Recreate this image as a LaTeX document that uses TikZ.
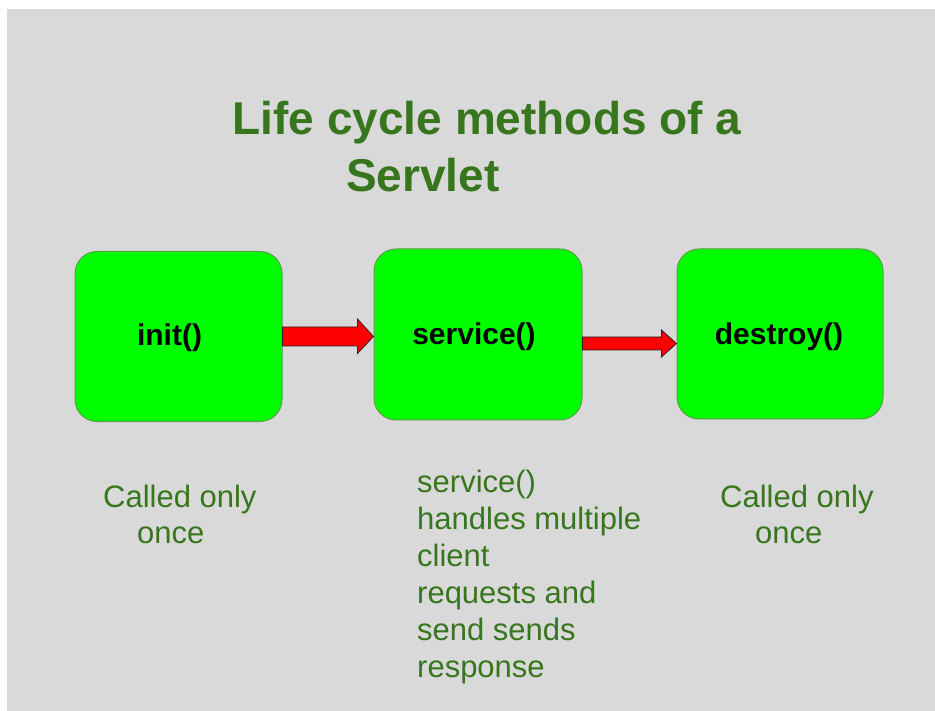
\documentclass[tikz,border=0pt]{standalone}
\usepackage{fontspec}
\setmainfont{Liberation Sans}
\usetikzlibrary{calc}
\definecolor{bg}{HTML}{D9D9D9}
\definecolor{boxgreen}{HTML}{00FF00}
\definecolor{boxline}{HTML}{5A9E45}
\definecolor{txtgreen}{HTML}{38761D}
\begin{document}
\begin{tikzpicture}[x=1pt,y=-1pt,
  stagebox/.style={draw=boxline, line width=1pt, fill=boxgreen, rounded corners=22pt,
    minimum width=207pt, minimum height=170pt, inner sep=0pt},
  boxlabel/.style={font=\fontsize{30}{36}\selectfont\bfseries, text=black, inner sep=0pt, anchor=base},
  note/.style={text=txtgreen, font=\fontsize{31}{37}\selectfont, inner sep=0pt, align=left},
  titletext/.style={text=txtgreen, font=\fontsize{46}{55}\selectfont\bfseries, inner sep=0pt},
  fatarrow/.style={draw=black!85, line width=0.8pt, fill=red, line join=miter}]
\useasboundingbox (0,0) rectangle (935,711);
\fill[white] (0,0) rectangle (935,711);
\fill[bg] (7,9) rectangle (935,711);

% title
\node[titletext, anchor=base] (title1) at (487,135) {Life cycle methods of a};
\node[titletext, anchor=base west] (title2) at (346,192) {Servlet};

% boxes
\node[stagebox] (init) at (178.5,336.5) {};
\node[stagebox, minimum width=208pt, minimum height=171pt] (service) at (478,334.5) {};
\node[stagebox, minimum width=206pt, minimum height=170pt] (destroy) at (780,334) {};
\node[boxlabel] (initlabel) at ($(init.center)+(-9,9.5)$) {init()};
\node[boxlabel] (servicelabel) at ($(service.center)+(-4,10)$) {service()};
\node[boxlabel] (destroylabel) at ($(destroy.center)+(-1,11)$) {destroy()};

% arrow 1
\coordinate (a1s) at (init.east);
\coordinate (a1e) at (service.west |- init.east);
\draw[fatarrow] ($(a1s)+(0,-9.5)$) -- ($(a1e)+(-16,-9.5)$) -- ($(a1e)+(-16,-17.5)$)
  -- (a1e) -- ($(a1e)+(-16,17)$) -- ($(a1e)+(-16,9.5)$) -- ($(a1s)+(0,9.5)$) -- cycle;

% arrow 2
\coordinate (a2s) at ($(service.east)+(0,9)$);
\coordinate (a2e) at (destroy.west |- a2s);
\draw[fatarrow] ($(a2s)+(0,-6.5)$) -- ($(a2e)+(-15,-6.5)$) -- ($(a2e)+(-15,-13.5)$)
  -- (a2e) -- ($(a2e)+(-15,13.5)$) -- ($(a2e)+(-15,6.5)$) -- ($(a2s)+(0,6.5)$) -- cycle;

% notes
\node[note, anchor=base west] (n1a) at (103,507) {Called only};
\node[note, anchor=base west] (n1b) at (137,543) {once};
\node[note, anchor=north west] (n2) at (417,469.5) {service()\\handles multiple\\client\\requests and\\send sends\\response};
\node[note, anchor=base west] (n3a) at (720,507) {Called only};
\node[note, anchor=base west] (n3b) at (755,543) {once};
\end{tikzpicture}
\end{document}
